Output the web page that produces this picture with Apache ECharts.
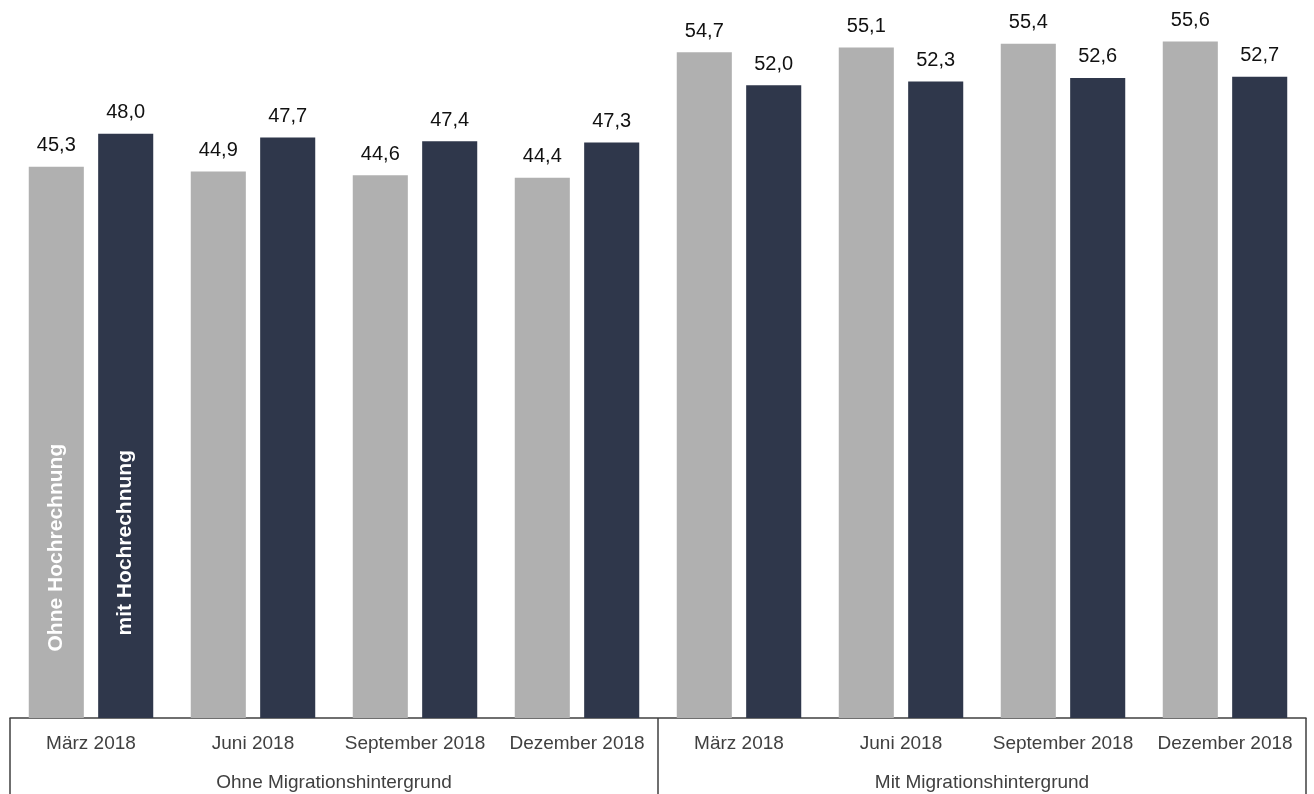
<!DOCTYPE html>
<html>
<head>
<meta charset="utf-8">
<script src="https://cdn.jsdelivr.net/npm/echarts@6/dist/echarts.min.js"></script>
<style>
  html, body { margin: 0; padding: 0; background: #fff; }
  #chart { width: 1314px; height: 794px; }
</style>
</head>
<body>
<div id="chart"></div>
<script>
// Quarters (inner axis level) and population groups (outer axis level)
const months = ['März 2018', 'Juni 2018', 'September 2018', 'Dezember 2018',
                'März 2018', 'Juni 2018', 'September 2018', 'Dezember 2018'];
const groups = ['Ohne Migrationshintergrund', 'Mit Migrationshintergrund'];

// Series names and values
const seriesNames = ['Ohne Hochrechnung', 'mit Hochrechnung'];
const ohneHochrechnung = [45.3, 44.9, 44.6, 44.4, 54.7, 55.1, 55.4, 55.6];
const mitHochrechnung  = [48.0, 47.7, 47.4, 47.3, 52.0, 52.3, 52.6, 52.7];

// Vertical in-bar captions: [category index, value position of caption centre]
const ohneCaptionAt = [0, 14.0];
const mitCaptionAt  = [0, 14.4];

const colors = ['#b0b0b0', '#2f374b'];
const FONT = '"Liberation Sans", Arial, Helvetica, sans-serif';

const fmt = v => v.toFixed(1).replace('.', ',');

function barSeries(name, data, color, captionAt) {
  return {
    name: name,
    type: 'bar',
    xAxisIndex: 0,
    data: data,
    barWidth: '34%',
    barGap: '26%',
    itemStyle: { color: color },
    label: {
      show: true,
      position: 'top',
      distance: 11,
      fontFamily: FONT,
      fontSize: 20,
      color: '#111',
      formatter: p => fmt(p.value)
    },
    markPoint: {
      symbol: 'rect',
      symbolSize: 1,
      itemStyle: { color: 'rgba(0,0,0,0)' },
      silent: true,
      label: {
        show: true,
        position: 'inside',
        rotate: 90,
        color: '#ffffff',
        fontFamily: FONT,
        fontWeight: 'bold',
        fontSize: 21,
        formatter: name
      },
      data: [{ coord: captionAt }]
    }
  };
}

const chart = echarts.init(document.getElementById('chart'), null, { renderer: 'canvas' });

chart.setOption({
  animation: false,
  backgroundColor: '#ffffff',
  grid: { left: 10, right: 8, top: 0, bottom: 76, containLabel: false },
  xAxis: [
    {
      type: 'category',
      data: months,
      position: 'bottom',
      axisLine: { show: true, lineStyle: { color: '#404040', width: 1.5 } },
      axisTick: { show: false },
      axisLabel: {
        interval: 0,
        margin: 16,
        fontFamily: FONT,
        fontSize: 19,
        color: '#404040'
      }
    },
    {
      type: 'category',
      data: groups,
      position: 'bottom',
      axisLine: { show: false },
      axisTick: {
        show: true,
        interval: 0,
        length: 76,
        lineStyle: { color: '#404040', width: 1.5 }
      },
      axisLabel: {
        interval: 0,
        margin: 55,
        fontFamily: FONT,
        fontSize: 19,
        color: '#404040'
      }
    }
  ],
  yAxis: {
    type: 'value',
    min: 0,
    max: 59,
    show: false,
    splitLine: { show: false }
  },
  series: [
    barSeries(seriesNames[0], ohneHochrechnung, colors[0], ohneCaptionAt),
    barSeries(seriesNames[1], mitHochrechnung, colors[1], mitCaptionAt)
  ]
});
</script>
</body>
</html>
